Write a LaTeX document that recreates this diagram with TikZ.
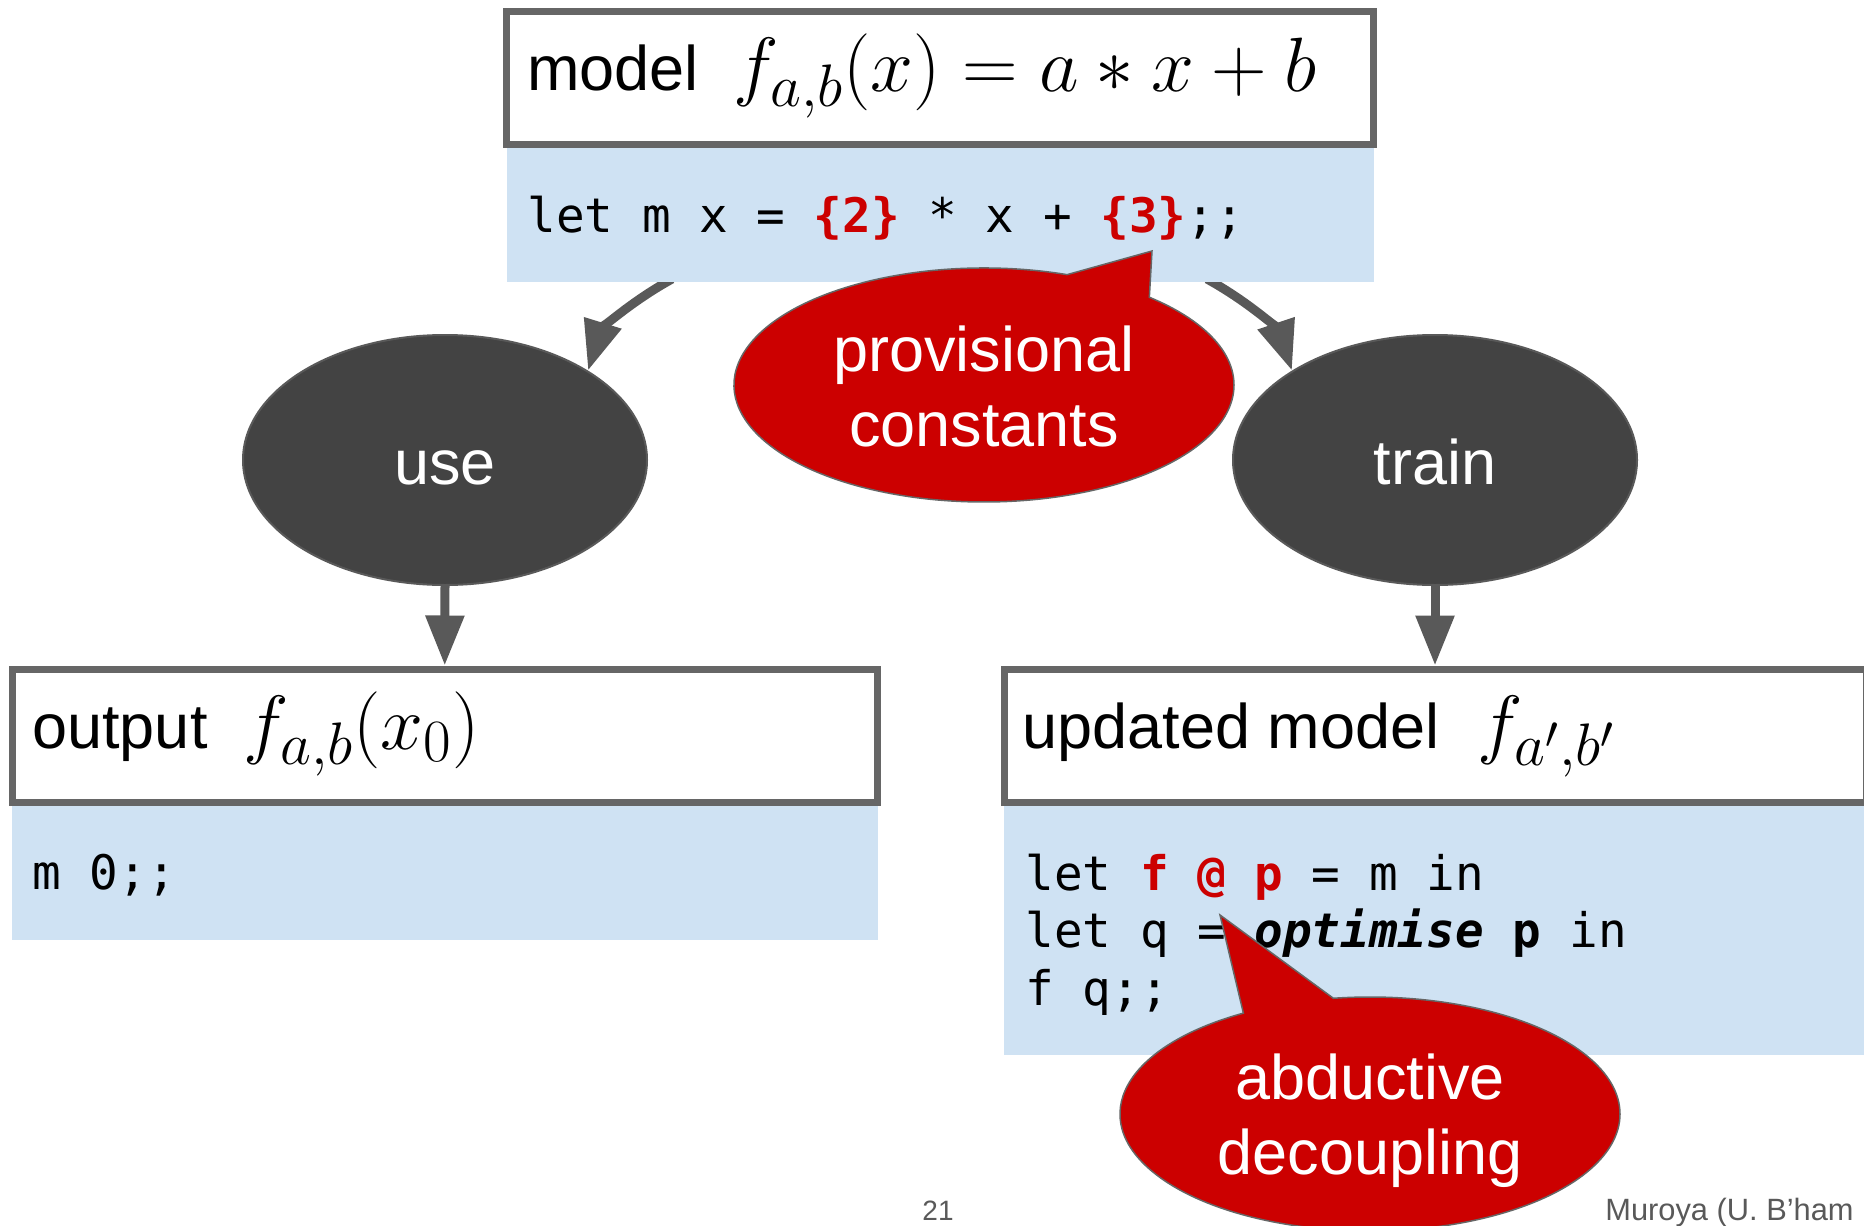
\RequirePackage{fix-cm}
\documentclass[tikz,border=0pt]{standalone}
\usepackage{fontspec}
\newfontfamily\arial{Liberation Sans}
\newfontfamily\mono{DejaVu Sans Mono}
\usetikzlibrary{shapes.geometric,shapes.callouts,arrows.meta}
\DeclareMathSizes{38.5}{38.5}{30}{23}
\definecolor{cblue}{HTML}{CFE2F3}
\definecolor{cred}{HTML}{CC0000}
\definecolor{cdark}{HTML}{434343}
\definecolor{cborder}{HTML}{666666}
\definecolor{carrow}{HTML}{595959}
\definecolor{cfoot}{HTML}{595959}
\newcommand{\cstrut}{\rule[-0.19em]{0pt}{1.14em}}
\newcommand{\hl}[1]{{\color{cred}\bfseries #1}}
\frenchspacing
\begin{document}
\begin{tikzpicture}[x=0.5pt,y=0.5pt,
  hdrbox/.style={rectangle, draw=cborder, line width=3.5pt, fill=white, inner sep=0pt, minimum height=66.75pt},
  codebg/.style={rectangle, fill=cblue, draw=none, inner sep=0pt, anchor=north},
  headtext/.style={font=\arial\fontsize{31.5}{37}\selectfont, anchor=base west, inner sep=0pt},
  mathtext/.style={font=\fontsize{38.5}{40}\selectfont, anchor=base west, inner sep=0pt},
  codetext/.style={font=\mono\fontsize{23.8}{28.5}\selectfont, anchor=base west, inner sep=0pt},
  blob/.style={ellipse, fill=cdark, draw=carrow, line width=1pt, minimum width=202pt, minimum height=125pt, text=white, font=\arial\fontsize{31.5}{37}\selectfont, text height=30pt, text depth=6pt, inner sep=0pt},
  bubble/.style={ellipse callout, fill=cred, draw=cborder, line width=0.75pt, minimum width=250pt, minimum height=117pt, callout pointer arc=22, text=white, align=center, inner sep=0pt, font=\arial\fontsize{31.5}{37.5}\selectfont},
  flow/.style={draw=carrow, line width=4.5pt, -{Triangle[length=25pt,width=18.5pt]}},
  foottext/.style={text=cfoot, inner sep=0pt}
]
\useasboundingbox (0,0) rectangle (1864,-1226);

% process ellipses
\node[blob] (use) at (445,-460) {use};
\node[blob] (train) at (1435,-460) {train};

% curved connectors (emerging from under the code box)
\coordinate (ls) at (672,-279);
\coordinate (rs) at (1207,-279);
\draw[flow] (ls) .. controls (625,-305) and (600,-332) .. (use.32);
\draw[flow] (rs) .. controls (1254,-305) and (1279,-332) .. (train.148);

% model box
\node[codebg, minimum width=433.5pt, minimum height=68.5pt] (modelcode) at (940,-145) {};
\node[hdrbox, minimum width=433.5pt] (model) at (940,-78) {};
\node[headtext] (modellbl) at (527,-90) {model};
\node[mathtext] (modelmath) at (733,-91) {$f_{a,b}(x) = a * x + b$};
\node[codetext] (modelsrc) at (527,-232) {let m x = \hl{\{2\}} * x + \hl{\{3\}};;};

% output box
\node[codebg, minimum width=432.75pt, minimum height=69pt] (outcode) at (444.75,-802) {};
\node[hdrbox, minimum width=432.75pt] (outh) at (444.75,-735.75) {};
\node[headtext] (outlbl) at (32,-748) {output};
\node[mathtext] (outmath) at (243,-749) {$f_{a,b}(x_0)$};
\node[codetext] (outsrc) at (32,-889) {m 0;;};

% updated model box
\node[codebg, minimum width=431pt, minimum height=126.5pt] (updcode) at (1435,-802) {};
\node[hdrbox, minimum width=431pt] (upd) at (1435,-735.75) {};
\node[headtext] (updlbl) at (1022,-748) {updated model};
\node[mathtext] (updmath) at (1477,-749) {$f_{a',b'}$};
\node[codetext] (updsrc1) at (1025,-890) {let \hl{f} \hl{@} \hl{p} = m in};
\node[codetext] (updsrc2) at (1025,-947) {let q = \textbf{\textit{optimise}} \textbf{p} in};
\node[codetext] (updsrc3) at (1025,-1005) {f q;;};

% straight connectors
\draw[flow] (use.south) -- (outh.north);
\draw[flow] (train.south) -- (upd.north);

% callouts
\node[bubble, callout absolute pointer={(1152,-251)}] (prov) at (984,-385) {\cstrut provisional\\\cstrut constants};
\node[bubble, callout absolute pointer={(1220,-915)}] (abd) at (1370,-1114) {\cstrut abductive\\\cstrut decoupling};

% footer
\node[foottext, font=\arial\fontsize{14}{16}\selectfont, anchor=base] (pagenum) at (938,-1220) {21};
\node[foottext, font=\arial\fontsize{15.4}{18}\selectfont, anchor=base west] (author) at (1605,-1220) {Muroya (U. B’ham};
\end{tikzpicture}
\end{document}
